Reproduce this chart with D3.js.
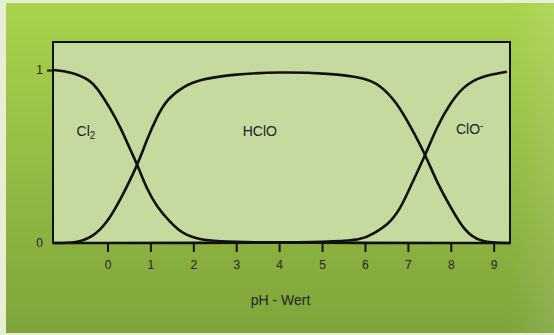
<!DOCTYPE html>
<html>
<head>
<meta charset="utf-8">
<script src="https://cdn.jsdelivr.net/npm/d3@7"></script>
<style>
  html, body { margin: 0; padding: 0; background: #eef3e2; }
  svg { display: block; font-family: "Liberation Sans", Arial, sans-serif; }
</style>
</head>
<body>
<svg id="chart"></svg>
<script>
// pH values and fractions
const phCl2 = [-1.27, -0.87, -0.40, -0.17, 0.06, 0.30, 0.53, 0.70, 0.92, 1.15, 1.46, 1.76, 2.16, 2.70, 9.38];
const fracCl2 = [1.0, 0.99, 0.945, 0.87, 0.78, 0.67, 0.54, 0.45, 0.31, 0.21, 0.12, 0.05, 0.02, 0, 0];

const phHClO = [-1.27, -0.71, -0.33, -0.01, 0.30, 0.70, 0.92, 1.15, 1.38, 1.77, 2.16, 2.86, 4.03, 5.19, 5.96, 6.35, 6.75, 7.06, 7.41, 7.68, 7.99, 8.30, 8.69, 9.38];
const fracHClO = [0, 0, 0.037, 0.116, 0.25, 0.45, 0.60, 0.73, 0.83, 0.906, 0.945, 0.974, 0.99, 0.98, 0.957, 0.916, 0.81, 0.674, 0.51, 0.348, 0.21, 0.075, 0, 0];

const phClO = [-1.27, 4.96, 5.97, 6.22, 6.51, 6.82, 7.13, 7.41, 7.68, 7.99, 8.30, 8.69, 9.31];
const fracClO = [0, 0, 0.017, 0.06, 0.10, 0.19, 0.365, 0.51, 0.674, 0.81, 0.906, 0.964, 0.99];

const xTicks = [0, 1, 2, 3, 4, 5, 6, 7, 8, 9];
const yTicks = [0, 1];
const speciesLabels = [
  { name: "Cl", sub: "2", ph: -0.72, frac: 0.62 },
  { name: "HClO", ph: 3.15, frac: 0.62 },
  { name: "ClO", sup: "-", ph: 8.12, frac: 0.63 }
];
const xTitle = "pH - Wert";

const W = 554, H = 335;
const margin = { top: 42, right: 44, bottom: 92, left: 53 };

const svg = d3.select("#chart").attr("width", W).attr("height", H);

// background panel
const defs = svg.append("defs");
const bg = defs.append("linearGradient").attr("id", "bg")
  .attr("x1", 0).attr("y1", 0).attr("x2", 0).attr("y2", 1);
bg.append("stop").attr("offset", "0%").attr("stop-color", "#a9d24c");
bg.append("stop").attr("offset", "100%").attr("stop-color", "#7fa43b");
const shine = defs.append("linearGradient").attr("id", "shine")
  .attr("x1", 0).attr("y1", 0).attr("x2", 1).attr("y2", 0);
shine.append("stop").attr("offset", "92%").attr("stop-color", "#ffffff").attr("stop-opacity", 0);
shine.append("stop").attr("offset", "100%").attr("stop-color", "#ffffff").attr("stop-opacity", 0.1);

svg.append("rect").attr("width", W).attr("height", H).attr("fill", "#e6eed6");
svg.append("rect").attr("x", 6).attr("y", 3).attr("width", W - 6).attr("height", H - 5)
  .attr("fill", "url(#bg)");
svg.append("rect").attr("x", 6).attr("y", 3).attr("width", W - 6).attr("height", H - 5)
  .attr("fill", "url(#shine)");

const x = d3.scaleLinear().domain([-1.27, 9.38]).range([margin.left, W - margin.right]);
const y = d3.scaleLinear().domain([0, 1.162]).range([H - margin.bottom, margin.top]);

// plot area
svg.append("rect")
  .attr("x", x.range()[0]).attr("y", y.range()[1])
  .attr("width", x.range()[1] - x.range()[0])
  .attr("height", y.range()[0] - y.range()[1])
  .attr("fill", "#c5da9f");

// curves
const line = d3.line()
  .x(d => x(d[0]))
  .y(d => y(d[1]))
  .curve(d3.curveBasis);

const series = [
  d3.zip(phCl2, fracCl2),
  d3.zip(phHClO, fracHClO),
  d3.zip(phClO, fracClO)
];

svg.append("g")
  .selectAll("path")
  .data(series)
  .join("path")
  .attr("d", line)
  .attr("fill", "none")
  .attr("stroke", "#111")
  .attr("stroke-width", 2.6)
  .attr("stroke-linejoin", "round");

// frame
svg.append("rect")
  .attr("x", x.range()[0]).attr("y", y.range()[1])
  .attr("width", x.range()[1] - x.range()[0])
  .attr("height", y.range()[0] - y.range()[1])
  .attr("fill", "none")
  .attr("stroke", "#111")
  .attr("stroke-width", 2);

// x axis
const xAxis = svg.append("g")
  .attr("transform", `translate(0,${y(0) + 1})`)
  .call(d3.axisBottom(x).tickValues(xTicks).tickSize(8).tickPadding(8).tickFormat(d3.format("d")));
xAxis.select(".domain").remove();
xAxis.selectAll(".tick line").attr("stroke", "#111").attr("stroke-width", 2);
xAxis.selectAll("text").attr("fill", "#222").style("font-size", "12px");

// y axis
const yAxis = svg.append("g")
  .attr("transform", `translate(${x.range()[0]},0)`)
  .call(d3.axisLeft(y).tickValues(yTicks).tickSize(6).tickPadding(4).tickFormat(d3.format("d")));
yAxis.select(".domain").remove();
yAxis.selectAll(".tick line").attr("stroke", "#111").attr("stroke-width", 2)
  .filter(d => d === 0).remove();
yAxis.selectAll("text").attr("fill", "#222").style("font-size", "12px");

// species labels
const lab = svg.append("g")
  .selectAll("text")
  .data(speciesLabels)
  .join("text")
  .attr("x", d => x(d.ph))
  .attr("y", d => y(d.frac))
  .attr("fill", "#222")
  .style("font-size", "14px")
  .text(d => d.name);
lab.filter(d => d.sub).append("tspan")
  .attr("dy", 3).style("font-size", "10px").text(d => d.sub);
lab.filter(d => d.sup).append("tspan")
  .attr("dy", -5).style("font-size", "10px").text(d => d.sup);

// x title
svg.append("text")
  .attr("x", (x.range()[0] + x.range()[1]) / 2 - 1)
  .attr("y", 305)
  .attr("text-anchor", "middle")
  .attr("fill", "#222")
  .style("font-size", "14px")
  .text(xTitle);
</script>
</body>
</html>
